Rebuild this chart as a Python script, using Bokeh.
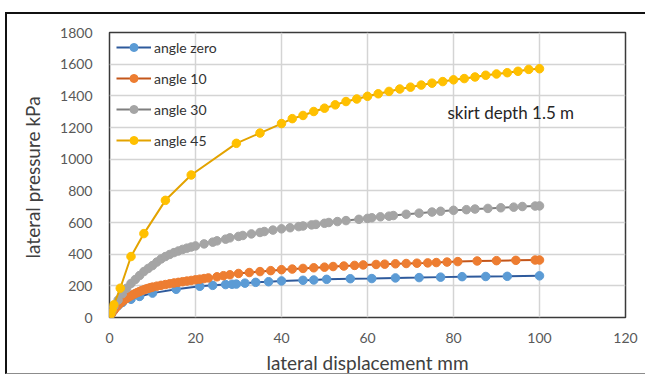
from bokeh.plotting import figure
from bokeh.models import Label, Legend, LegendItem
from bokeh.embed import file_html
from bokeh.resources import INLINE

# lateral displacement (mm) and lateral pressure (kPa) for each skirt angle
x_zero = [0, 0.5, 1, 2, 3, 5, 7, 10, 15.5, 21, 24, 27, 28.5, 29.5, 31.5, 34, 37, 40,
          45, 47.5, 50.5, 56, 61, 66.5, 72, 77, 82, 87.5, 92.5, 100]
y_zero = [0, 25, 45, 75, 95, 115, 133, 154, 178, 197, 203, 208, 210, 211, 217, 222, 226, 231,
          235, 237, 241, 245, 246, 250, 252, 255, 258, 259, 260, 263]

x_10 = [0, 0.5, 1, 1.5, 2, 2.5, 3, 3.5, 4, 4.5, 5, 5.5, 6, 6.5, 7, 7.5, 8, 8.5, 9, 9.5,
        10, 11, 12, 13, 14, 15, 16, 17, 18, 19, 20, 21, 22, 23, 25, 26.5, 28, 30, 32.5,
        35, 37.5, 40, 42.5, 45, 47.5, 50, 52, 54.5, 57, 59, 62, 64, 66.5, 69, 71.5, 74,
        76, 78.5, 81, 85.5, 90, 94.5, 99, 100]
y_10 = [0, 25, 45, 62, 78, 90, 102, 112, 121, 130, 138, 145, 152, 158, 164, 170, 175, 180,
        184, 188, 192, 198, 203, 208, 213, 218, 222, 226, 230, 234, 238, 242, 246, 250,
        257, 264, 270, 278, 284, 290, 296, 302, 306, 310, 314, 318, 322, 325, 329, 332,
        335, 337, 339, 341, 343, 345, 347, 350, 353, 357, 359, 361, 363, 363]

x_30 = [0, 0.5, 1, 2, 3, 4, 5, 6, 7, 8, 9, 10, 11, 12, 13, 14, 15, 16, 17, 18, 19, 20,
        22, 24, 25, 27, 28, 30, 31, 33, 35, 36, 38, 40, 42, 44, 45, 47, 48, 50, 51, 53,
        55, 58, 60, 61, 63, 65, 66, 69, 72, 75, 77, 80, 83, 85, 88, 91, 94, 96, 99, 100]
y_30 = [0, 40, 70, 110, 150, 185, 215, 240, 265, 290, 310, 328, 350, 370, 385, 398, 410,
        420, 430, 438, 445, 452, 465, 476, 484, 495, 503, 512, 518, 528, 537, 543, 552,
        560, 567, 574, 578, 585, 588, 595, 600, 606, 612, 620, 626, 630, 636, 640, 644,
        652, 659, 666, 671, 677, 681, 685, 689, 693, 697, 701, 704, 705]

x_45 = [0, 0.3, 0.6, 1, 2.5, 5, 8, 13, 19, 29.5, 35, 40, 42.5, 45, 47.5, 50, 52.5, 55,
        57.5, 60, 62.5, 65, 67.5, 70, 72.5, 75, 77.5, 80, 82.5, 85, 87.5, 90, 92.5, 95,
        97.5, 100]
y_45 = [0, 25, 50, 80, 185, 385, 530, 740, 900, 1100, 1165, 1225, 1256, 1276, 1301, 1322,
        1343, 1364, 1380, 1397, 1413, 1428, 1443, 1455, 1468, 1480, 1490, 1501, 1509, 1519,
        1530, 1538, 1546, 1555, 1567, 1571]

series_names = ["angle zero", "angle 10", "angle 30", "angle 45"]
x_ticks = [0, 20, 40, 60, 80, 100, 120]
y_ticks = [0, 200, 400, 600, 800, 1000, 1200, 1400, 1600, 1800]
note_text = "skirt depth  1.5 m"

FONT = "Lato"
line_colors = ["#2E5A9C", "#C4561A", "#7F7F7F", "#E3A300"]
fill_colors = ["#5B9BD5", "#ED7D31", "#A5A5A5", "#FFC000"]

p = figure(width=640, height=362, x_range=(0, 120), y_range=(0, 1800),
           output_backend="svg", toolbar_location=None,
           min_border_left=102, min_border_right=22, min_border_top=18, min_border_bottom=52)
p.styles = {"margin-left": "5px", "margin-top": "12px",
            "border-top": "2px solid #111", "border-left": "2px solid #111",
            "border-bottom": "1px solid #8c8c8c"}

p.background_fill_color = "white"
p.border_fill_color = "white"
p.outline_line_color = "#3a3a3a"
p.outline_line_width = 1.5

p.xgrid.grid_line_color = "#D4D4D4"
p.ygrid.grid_line_color = "#D4D4D4"
p.xgrid.grid_line_width = 1.5
p.ygrid.grid_line_width = 1.5
p.xaxis.ticker = x_ticks
p.yaxis.ticker = y_ticks

for ax in (p.xaxis[0], p.yaxis[0]):
    ax.axis_line_color = None
    ax.major_tick_line_color = None
    ax.minor_tick_line_color = None
    ax.major_label_text_font = FONT
    ax.major_label_text_font_size = "14px"
    ax.major_label_text_color = "#595959"
    ax.axis_label_text_font = FONT
    ax.axis_label_text_font_size = "19px"
    ax.axis_label_text_font_style = "normal"
    ax.axis_label_text_color = "#404040"

p.xaxis.major_label_standoff = 9
p.yaxis.major_label_standoff = 11
p.xaxis.axis_label = "lateral displacement mm"
p.yaxis.axis_label = "lateral pressure  kPa"
p.xaxis.axis_label_standoff = 5
p.yaxis.axis_label_standoff = 13

items = []
data = [(x_zero, y_zero), (x_10, y_10), (x_30, y_30), (x_45, y_45)]
for (xs, ys), name, lc, fc in zip(data, series_names, line_colors, fill_colors):
    ln = p.line(xs, ys, line_color=lc, line_width=2)
    sc = p.scatter(xs, ys, size=8.5, fill_color=fc, line_color=fc, line_width=1)
    items.append(LegendItem(label=name, renderers=[ln, sc]))

legend = Legend(items=items, location=(7, 167), orientation="vertical",
                background_fill_alpha=0, border_line_color=None,
                label_text_font=FONT, label_text_font_size="14px",
                label_text_color="#333333", glyph_width=35, glyph_height=20,
                label_height=20, spacing=11, padding=4, margin=0, label_standoff=3)
p.add_layout(legend)

p.add_layout(Label(x=78.6, y=1295, text=note_text, text_font=FONT,
                   text_font_size="17px", text_color="#262626",
                   text_baseline="middle", text_align="left"))

open("out.html", "w").write(file_html(p, INLINE))
